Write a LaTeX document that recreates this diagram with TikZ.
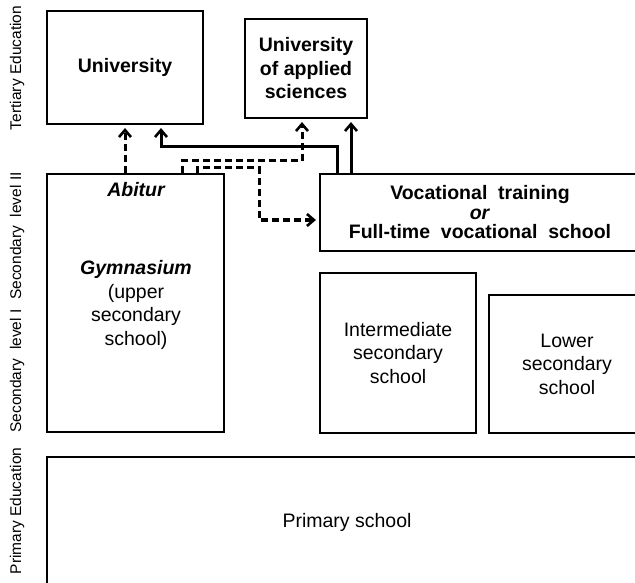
\documentclass[tikz,border=0pt]{standalone}
\usepackage{fontspec}
\setmainfont{Liberation Sans}
\usetikzlibrary{arrows.meta}
\begin{document}
\begin{tikzpicture}[x=1pt,y=-1pt,
  box/.style={draw, line width=2.1pt, inner sep=0pt, align=center, font=\fontsize{19.5}{23.5}\selectfont},
  bbox/.style={box, font=\fontsize{19.5}{23.5}\selectfont\bfseries},
  txt/.style={inner sep=0pt, align=center, font=\fontsize{19.5}{23.5}\selectfont},
  side/.style={rotate=90, inner sep=0pt, font=\fontsize{15.5}{18}\selectfont},
  conn/.style={line width=3pt, -{Straight Barb[length=7pt,width=12pt,line width=2.6pt]}, shorten >=3pt},
  dconn/.style={conn, dash pattern=on 7pt off 4pt},
]
\useasboundingbox (0,0) rectangle (635,583);
\clip (0,0) rectangle (635,583);

% side labels
\node[side] (lt) at (17,68) {Tertiary Education};
\node[side] (ls2) at (17,236) {Secondary\ \ level II};
\node[side] (ls1) at (17,371) {Secondary\ \ level I};
\node[side] (lp) at (17,511) {Primary Education};

% boxes
\node[bbox, minimum width=156pt, minimum height=113pt] (uni) at (125,67.5) {University};
\node[bbox, minimum width=122pt, minimum height=99pt] (uas) at (306,68.5) {University\\of applied\\sciences};
\node[box, minimum width=177pt, minimum height=258pt] (gym) at (135.5,303) {};
\node[txt, font=\fontsize{19.5}{23.5}\selectfont\bfseries\itshape] (abitur) at (136,190) {Abitur};
\node[txt] (gymtext) at (136,305) {\textbf{\textit{Gymnasium}}\\(upper\\secondary\\school)};
\node[bbox, minimum width=320pt, minimum height=77pt, font=\fontsize{19.5}{19.5}\selectfont\bfseries] (voc) at (480,212.5) {Vocational\ \ training\\\textit{or}\\Full-time\ \ vocational\ \ school};
\node[box, minimum width=156pt, minimum height=160pt] (inter) at (398,353) {Intermediate\\secondary\\school};
\node[box, minimum width=156pt, minimum height=138pt] (lower) at (567,364) {Lower\\secondary\\school};
\node[box, minimum width=600pt, minimum height=130pt] (prim) at (347,522) {Primary school};

% helper coordinates
\coordinate (k1) at (161,147);
\coordinate (k2) at (302,161);
\coordinate (k3) at (259,168);

% connectors
\draw[dconn] (uni.south |- gym.north) -- (uni.south);
\draw[conn] (337,0 |- voc.north) |- (k1) -- (k1 |- uni.south);
\draw[conn] (351,0 |- voc.north) -- (351,0 |- uas.south);
\draw[dconn] (182,0 |- gym.north) |- (k2) -- (k2 |- uas.south);
\draw[dconn] (197,0 |- gym.north) |- (k3) |- (voc.west |- 0,220);
\end{tikzpicture}
\end{document}
